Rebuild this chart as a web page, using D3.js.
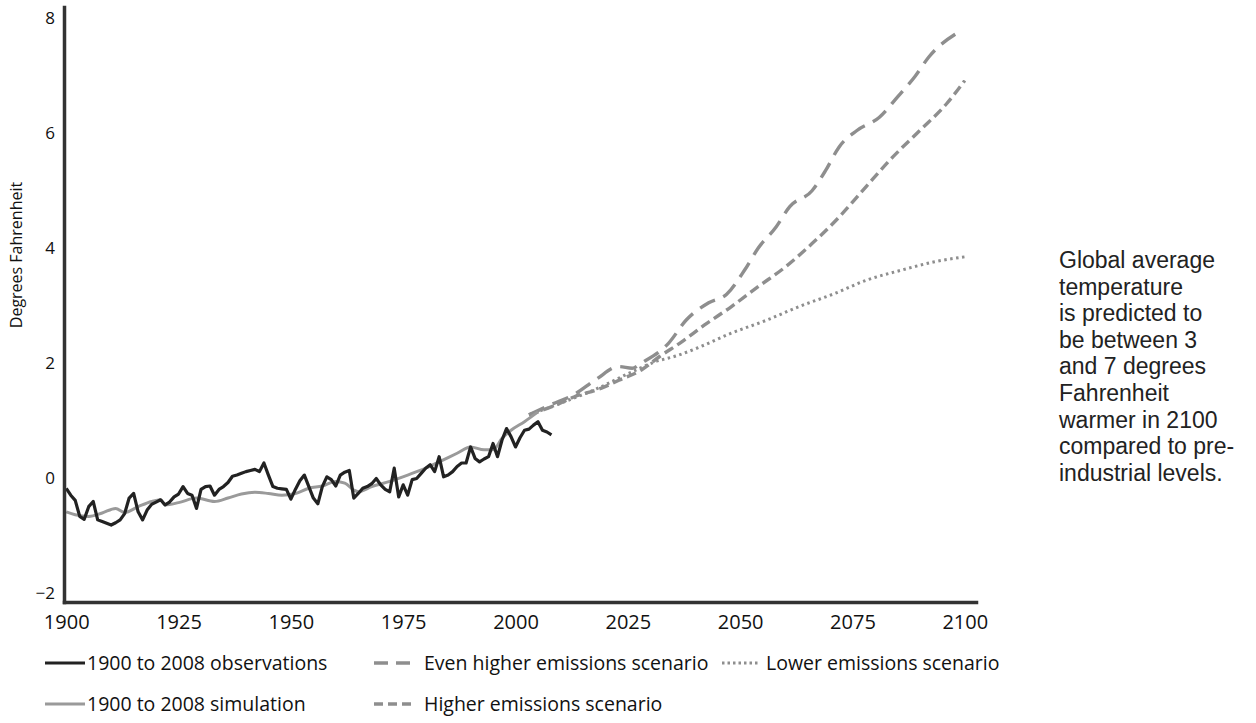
<!DOCTYPE html>
<html>
<head>
<meta charset="utf-8">
<script src="https://cdn.jsdelivr.net/npm/d3@7"></script>
<style>
  html, body { margin: 0; padding: 0; background: #fff; }
  svg { display: block; }
</style>
</head>
<body>
<svg id="chart" width="1256" height="723"></svg>
<script>
// ---------- DATA ----------
const obsYears = d3.range(1900, 2009);
const obsValues = [
  -0.18, -0.30, -0.39, -0.67, -0.72, -0.50, -0.41, -0.73, -0.76, -0.79,
  -0.82, -0.78, -0.73, -0.62, -0.35, -0.27, -0.59, -0.73, -0.56, -0.46,
  -0.42, -0.38, -0.47, -0.42, -0.33, -0.28, -0.15, -0.27, -0.30, -0.53,
  -0.20, -0.15, -0.14, -0.30, -0.20, -0.15, -0.08, 0.03, 0.05, 0.08,
  0.11, 0.13, 0.15, 0.11, 0.26, 0.05, -0.15, -0.18, -0.19, -0.20,
  -0.37, -0.20, -0.05, 0.05, -0.15, -0.35, -0.45, -0.15, 0.02, -0.03,
  -0.14, 0.05, 0.10, 0.13, -0.35, -0.27, -0.18, -0.15, -0.10, -0.01,
  -0.12, -0.20, -0.24, 0.17, -0.33, -0.12, -0.30, -0.03, -0.01, 0.08,
  0.17, 0.23, 0.11, 0.37, 0.02, 0.05, 0.11, 0.20, 0.26, 0.26,
  0.54, 0.34, 0.28, 0.33, 0.37, 0.60, 0.37, 0.66, 0.86, 0.72,
  0.54, 0.70, 0.83, 0.85, 0.92, 0.98, 0.83, 0.80, 0.75
];

const simYears  = [1900, 1902, 1905, 1908, 1911, 1913, 1916, 1919, 1921, 1922, 1925, 1929, 1933, 1936, 1939, 1942, 1945, 1948, 1951, 1954, 1957, 1960, 1962, 1964, 1965, 1968, 1972, 1976, 1980, 1983, 1987, 1990, 1993, 1995, 1997, 1999, 2002, 2005];
const simValues = [-0.59, -0.64, -0.67, -0.61, -0.53, -0.60, -0.50, -0.41, -0.38, -0.47, -0.43, -0.35, -0.41, -0.35, -0.28, -0.25, -0.27, -0.30, -0.27, -0.18, -0.14, -0.06, -0.09, -0.21, -0.24, -0.15, -0.06, 0.05, 0.17, 0.28, 0.43, 0.54, 0.49, 0.49, 0.69, 0.83, 0.98, 1.15];

const evenHigherYears  = [2003, 2008, 2013, 2018, 2023, 2026, 2028, 2034, 2038, 2043, 2047, 2051, 2054, 2058, 2061, 2066, 2069, 2072, 2076, 2081, 2085, 2089, 2092, 2099];
const evenHigherValues = [1.10, 1.28, 1.45, 1.72, 1.94, 1.91, 2.00, 2.34, 2.75, 3.05, 3.20, 3.62, 4.00, 4.37, 4.72, 5.00, 5.35, 5.76, 6.05, 6.28, 6.63, 7.00, 7.33, 7.78];

const higherYears  = [2003, 2009, 2013, 2019, 2023, 2028, 2032, 2037, 2042, 2048, 2054, 2060, 2066, 2072, 2078, 2084, 2090, 2096, 2100];
const higherValues = [1.10, 1.27, 1.41, 1.56, 1.70, 1.88, 2.11, 2.37, 2.66, 2.98, 3.33, 3.67, 4.08, 4.54, 5.07, 5.59, 6.05, 6.52, 6.92];

const lowerYears  = [2003, 2010, 2018, 2026, 2031, 2036, 2041, 2048, 2056, 2063, 2071, 2078, 2086, 2093, 2100];
const lowerValues = [1.10, 1.30, 1.55, 1.85, 2.02, 2.13, 2.28, 2.52, 2.75, 2.98, 3.21, 3.44, 3.62, 3.76, 3.85];

const xTicks = [1900, 1925, 1950, 1975, 2000, 2025, 2050, 2075, 2100];
const yTicks = [-2, 0, 2, 4, 6, 8];
const yTitle = "Degrees Fahrenheit";
const noteLines = ["Global average", "temperature", "is predicted to", "be between 3", "and 7 degrees", "Fahrenheit", "warmer in 2100", "compared to pre-", "industrial levels."];

const legendRow1 = [
  { key: "obs", label: "1900 to 2008 observations" },
  { key: "even", label: "Even higher emissions scenario" },
  { key: "lower", label: "Lower emissions scenario" }
];
const legendRow2 = [
  { key: "sim", label: "1900 to 2008 simulation" },
  { key: "higher", label: "Higher emissions scenario" }
];

// ---------- STYLES ----------
const styles = {
  obs:    { color: "#222222", width: 3.2, dash: null },
  sim:    { color: "#9a9a9a", width: 3.0, dash: null },
  even:   { color: "#8e8e8e", width: 3.4, dash: "17,9" },
  higher: { color: "#8e8e8e", width: 3.4, dash: "10,5" },
  lower:  { color: "#8e8e8e", width: 3.0, dash: "2.5,3.5" }
};

// ---------- SCALES ----------
const svg = d3.select("#chart");
const x = d3.scaleLinear().domain([1899.5, 2102.5]).range([64, 976]);
const y = d3.scaleLinear().domain([-2.16, 8.2]).range([602, 7]);

const zip = (xs, vs) => xs.map((d, i) => ({ year: d, value: vs[i] }));

// ---------- LINES ----------
const lineLinear = d3.line().x(d => x(d.year)).y(d => y(d.value));
const lineSmooth = d3.line().x(d => x(d.year)).y(d => y(d.value)).curve(d3.curveMonotoneX);

const g = svg.append("g");
function drawSeries(data, key, gen) {
  const s = styles[key];
  g.append("path")
    .datum(data)
    .attr("fill", "none")
    .attr("stroke", s.color)
    .attr("stroke-width", s.width)
    .attr("stroke-linejoin", "round")
    .attr("stroke-dasharray", s.dash)
    .attr("d", gen);
}
drawSeries(zip(lowerYears, lowerValues), "lower", lineSmooth);
drawSeries(zip(higherYears, higherValues), "higher", lineSmooth);
drawSeries(zip(evenHigherYears, evenHigherValues), "even", lineSmooth);
drawSeries(zip(simYears, simValues), "sim", lineSmooth);
drawSeries(zip(obsYears, obsValues), "obs", lineLinear);

// ---------- AXES ----------
const xAxis = d3.axisBottom(x).tickValues(xTicks).tickFormat(d3.format("d")).tickSize(0).tickPadding(13);
const yAxis = d3.axisLeft(y).tickValues(yTicks).tickFormat(d => d < 0 ? "\u2212" + Math.abs(d) : d).tickSize(0).tickPadding(9);

const gx = svg.append("g").attr("transform", "translate(0,602)").call(xAxis);
const gy = svg.append("g").attr("transform", "translate(64,0)").call(yAxis);
[gx, gy].forEach(a => {
  a.select(".domain").attr("stroke", "#333").attr("stroke-width", 3.5).attr("stroke-linecap", "square");
});
gx.selectAll("text").attr("font-family", "'Open Sans', sans-serif").attr("font-size", 20).attr("fill", "#111");
gy.selectAll("text").attr("font-family", "'Open Sans', sans-serif").attr("font-size", 17).attr("fill", "#111");

svg.append("text")
  .attr("transform", "translate(16,255) rotate(-90)")
  .attr("text-anchor", "middle")
  .attr("dy", "0.35em")
  .attr("font-family", "'Open Sans', sans-serif")
  .attr("font-size", 16)
  .attr("fill", "#111")
  .text(yTitle);

// ---------- LEGEND ----------
const legend = svg.append("g").attr("font-family", "'Open Sans', sans-serif").attr("font-size", 19.5).attr("fill", "#111");
function legendItem(item, x0, x1, tx, yy) {
  const s = styles[item.key];
  legend.append("line")
    .attr("x1", x0).attr("x2", x1).attr("y1", yy).attr("y2", yy)
    .attr("stroke", s.color).attr("stroke-width", s.width)
    .attr("stroke-dasharray", item.key === "even" ? "14,8" : item.key === "higher" ? "9,5" : item.key === "lower" ? "2.5,3" : null);
  legend.append("text").attr("x", tx).attr("y", yy).attr("dy", "0.35em").text(item.label);
}
const legendX = { obs: [45, 85, 87], sim: [45, 85, 87], even: [374, 412, 424], higher: [374, 412, 424], lower: [722, 760, 766] };
legendRow1.forEach(it => legendItem(it, legendX[it.key][0], legendX[it.key][1], legendX[it.key][2], 663));
legendRow2.forEach(it => legendItem(it, legendX[it.key][0], legendX[it.key][1], legendX[it.key][2], 704));

// ---------- NOTE ----------
const note = svg.append("text")
  .attr("font-family", "'Liberation Sans', Arial, sans-serif")
  .attr("font-size", 23)
  .attr("fill", "#222");
noteLines.forEach((t, i) => {
  note.append("tspan").attr("x", 1059).attr("y", 260 + i * 26.6).attr("dy", "0.35em").text(t);
});
</script>
</body>
</html>
